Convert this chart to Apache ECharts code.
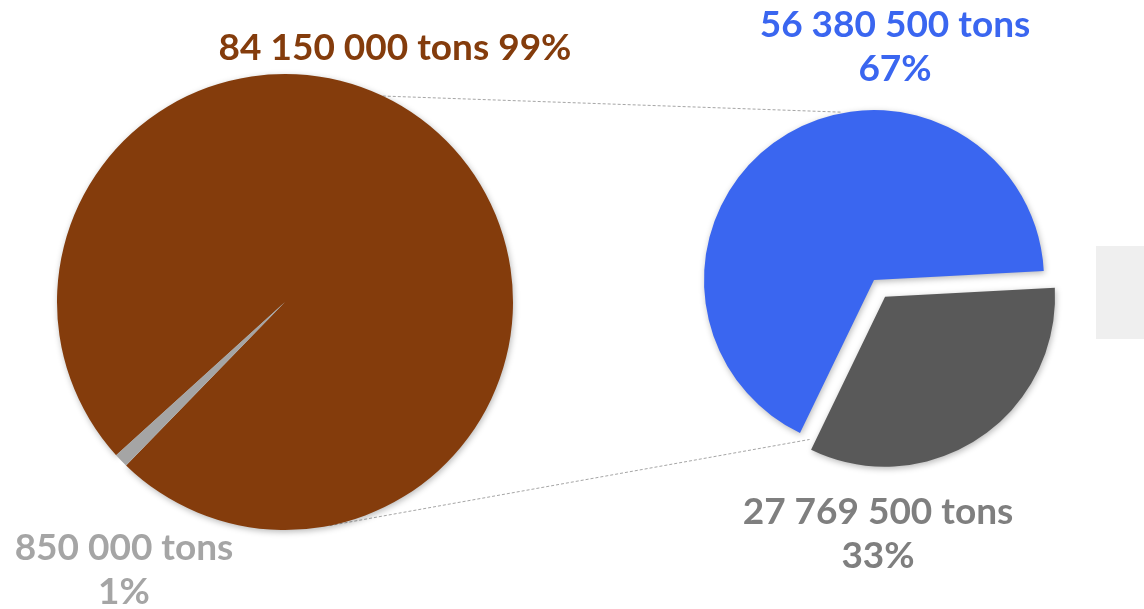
<!DOCTYPE html>
<html>
<head>
<meta charset="utf-8">
<script src="https://cdn.jsdelivr.net/npm/echarts@6/dist/echarts.min.js"></script>
<style>
  html, body { margin: 0; padding: 0; background: #ffffff; }
  #chart { width: 1144px; height: 609px; }
</style>
</head>
<body>
<div id="chart"></div>
<script>
// Primary pie: the aggregated part broken out on the right, and the small remainder
const mainNames = ['Split', 'Other'];
const mainValues = [84150000, 850000];
// Secondary pie: breakdown of the aggregated part
const subNames = ['Part A', 'Part B'];
const subValues = [27769500, 56380500];

const FONT = 'Lato';
const mainCenter = [285, 302], mainR = 228;
const mainStart = 222.2;     // the thin wedge ends up pointing down-left
const subCenter = [874, 280], subR = 170;
const subStart = 3;          // start angle of the secondary pie
const explode = 20;          // offset of the pulled-out slice

function fmtTons(v) {
  return String(v).replace(/\B(?=(\d{3})+(?!\d))/g, ' ') + ' tons';
}

function pt(c, r, deg) {
  const a = deg * Math.PI / 180;
  return [c[0] + r * Math.cos(a), c[1] - r * Math.sin(a)];
}

const mainColors = ['#843C0C', '#A5A5A5'];
const mainLabelColors = ['#843C0C', '#A5A5A5'];
const subColors = ['#595959', '#3A66F0'];
const subLabelColors = ['#7F7F7F', '#3A66F0'];

const mainLabelPos = [[395, 48], [124, 570]];
const subLabelPos = [[878, 534], [895, 47]];

const shadow = { shadowBlur: 6, shadowColor: 'rgba(0,0,0,0.28)', shadowOffsetX: 1, shadowOffsetY: 2 };

const labelBase = {
  show: true,
  position: 'outside',
  fontFamily: FONT,
  fontWeight: 'bold',
  fontSize: 37,
  lineHeight: 44,
  overflow: 'none'
};

// the pulled-out slice moves along its own mid angle
const subTotal = subValues.reduce((a, b) => a + b, 0);
const midAngle = subStart - 360 * subValues[0] / subTotal / 2;
const explodedCenter = pt(subCenter, explode, midAngle);

const c1 = pt(mainCenter, mainR, 64.6), c2 = pt(subCenter, subR + 1, 101);
const c3 = pt(mainCenter, mainR, -78.7), c4 = pt(subCenter, subR + 2, -112);
const lineStyle = { stroke: '#A6A6A6', lineWidth: 1, lineDash: [3, 2] };

function subSeries(center, shown) {
  return {
    type: 'pie',
    center: center,
    radius: [0, subR],
    startAngle: subStart,
    clockwise: true,
    percentPrecision: 0,
    label: Object.assign({}, labelBase, {
      formatter: p => fmtTons(p.value) + '\n' + p.percent + '%'
    }),
    labelLine: { show: false },
    labelLayout: p => ({ x: subLabelPos[p.dataIndex][0], y: subLabelPos[p.dataIndex][1], align: 'center', verticalAlign: 'middle' }),
    emphasis: { disabled: true },
    data: subValues.map((v, i) => ({
      name: subNames[i], value: v,
      itemStyle: i === shown ? Object.assign({ color: subColors[i] }, shadow) : { color: 'rgba(0,0,0,0)' },
      label: { show: i === shown, color: subLabelColors[i] }
    }))
  };
}

const chart = echarts.init(document.getElementById('chart'), null, { renderer: 'canvas' });
chart.setOption({
  animation: false,
  backgroundColor: '#ffffff',
  graphic: [
    { type: 'line', z: 1, shape: { x1: c1[0], y1: c1[1], x2: c2[0], y2: c2[1] }, style: lineStyle },
    { type: 'line', z: 1, shape: { x1: c3[0], y1: c3[1], x2: c4[0], y2: c4[1] }, style: lineStyle },
    { type: 'rect', z: 1, shape: { x: 1096, y: 246, width: 60, height: 93 }, style: { fill: '#EFEFEF' } }
  ],
  series: [
    {
      type: 'pie',
      center: mainCenter,
      radius: [0, mainR],
      startAngle: mainStart,
      clockwise: true,
      percentPrecision: 0,
      label: Object.assign({}, labelBase, {
        formatter: p => p.dataIndex === 0 ? fmtTons(p.value) + ' ' + p.percent + '%' : fmtTons(p.value) + '\n' + p.percent + '%'
      }),
      labelLine: { show: false },
      labelLayout: p => ({ x: mainLabelPos[p.dataIndex][0], y: mainLabelPos[p.dataIndex][1], align: 'center', verticalAlign: 'middle' }),
      emphasis: { disabled: true },
      data: mainValues.map((v, i) => ({
        name: mainNames[i], value: v,
        // the thin wedge is drawn last and without shadow so it stays crisp
        itemStyle: i === 0 ? Object.assign({ color: mainColors[i] }, shadow) : { color: mainColors[i] },
        label: { color: mainLabelColors[i] }
      }))
    },
    subSeries(subCenter, 1),
    subSeries(explodedCenter, 0)
  ]
});
</script>
</body>
</html>
